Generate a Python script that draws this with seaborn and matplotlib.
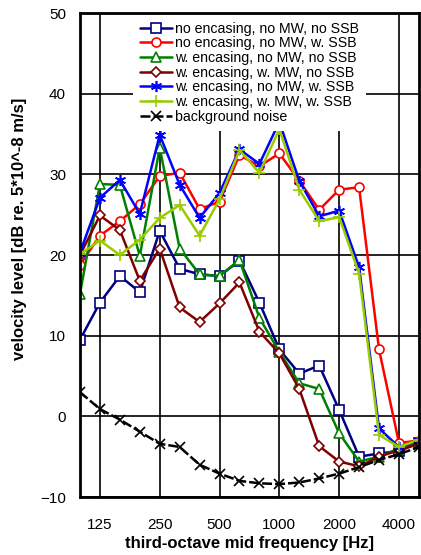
import numpy as np
import pandas as pd
import matplotlib
matplotlib.use("Agg")
import matplotlib.pyplot as plt
import seaborn as sns

freqs = [100, 125, 160, 200, 250, 315, 400, 500, 630, 800, 1000, 1250, 1600, 2000, 2500, 3150, 4000, 5000]
tick_labels = ["125", "250", "500", "1000", "2000", "4000"]

no_enc_no_mw_no_ssb = [9.5, 14.1, 17.4, 15.4, 23.0, 18.3, 17.6, 17.4, 19.3, 14.1, 8.3, 5.3, 6.3, 0.8, -5.0, -4.6, -4.3, -3.3]
no_enc_no_mw_w_ssb = [18.8, 22.4, 24.2, 26.3, 29.8, 30.2, 25.7, 26.6, 32.4, 31.0, 32.6, 29.2, 25.6, 28.1, 28.4, 8.3, -3.3, -3.0]
w_enc_no_mw_no_ssb = [15.2, 28.8, 28.7, 19.9, 33.3, 20.8, 17.6, 17.4, 19.4, 12.2, 8.0, 4.1, 3.4, -2.1, -5.6, -5.0, -4.0, -3.2]
w_enc_w_mw_no_ssb = [20.0, 24.9, 23.1, 16.8, 20.8, 13.5, 11.7, 14.0, 16.6, 10.5, 7.8, 3.4, -3.7, -5.6, -6.2, -5.0, -4.2, -3.4]
w_enc_no_mw_w_ssb = [20.3, 27.1, 29.3, 25.1, 34.9, 28.7, 24.6, 27.7, 33.1, 31.3, 36.5, 29.2, 24.8, 25.5, 18.5, -1.5, -3.8, -3.0]
w_enc_w_mw_w_ssb = [20.1, 21.8, 20.0, 21.9, 24.6, 26.2, 22.4, 26.9, 33.0, 30.2, 35.6, 28.1, 24.2, 24.7, 17.7, -2.3, -3.8, -2.9]
background = [3.0, 0.9, -0.4, -1.9, -3.4, -3.8, -6.0, -7.1, -8.0, -8.3, -8.4, -8.2, -7.7, -7.1, -6.3, -5.4, -4.7, -3.8]

labels = ["no encasing, no MW, no SSB", "no encasing, no MW, w. SSB",
          "w. encasing, no MW, no SSB", "w. encasing, w. MW, no SSB",
          "w. encasing, no MW, w. SSB", "w. encasing, w. MW, w. SSB",
          "background noise"]
series = [no_enc_no_mw_no_ssb, no_enc_no_mw_w_ssb, w_enc_no_mw_no_ssb, w_enc_w_mw_no_ssb,
          w_enc_no_mw_w_ssb, w_enc_w_mw_w_ssb, background]
colors = ["#000080", "#ff0000", "#008000", "#800000", "#0000ff", "#99cc00", "#000000"]
markers = ["s", "o", "^", "D", (6, 2, 0), "+", "x"]
msizes = [6.5, 6.5, 7, 5, 8, 8, 7.5]

sns.set_style("white")
plt.rcParams["font.family"] = ["Liberation Sans", "DejaVu Sans"]
plt.rcParams["text.color"] = "black"
plt.rcParams["axes.labelcolor"] = "black"
plt.rcParams["xtick.color"] = "black"
plt.rcParams["ytick.color"] = "black"

fig = plt.figure(figsize=(4.21, 5.55), dpi=100)
ax = fig.add_axes([0.190, 0.1045, 0.805, 0.872])

x = np.arange(len(freqs))
for vals, lab, c, m, ms in zip(series, labels, colors, markers, msizes):
    ls = (0, (4, 1.2)) if lab == "background noise" else "-"
    sns.lineplot(x=x, y=vals, ax=ax, color=c, marker=m, markersize=ms,
                 markerfacecolor="white", markeredgecolor=c, markeredgewidth=1.2,
                 linewidth=1.8, linestyle=ls, label=lab)

ax.set_xlim(0, 17)
ax.set_ylim(-10, 50)
ax.set_xticks([1, 4, 7, 10, 13, 16])
ax.set_xticklabels(tick_labels)
ax.set_yticks(range(-10, 51, 10))
ax.grid(True, color="black", linewidth=1.2)
ax.tick_params(axis="both", length=0, labelsize=11)
ax.tick_params(axis="x", pad=15)
ax.tick_params(axis="y", pad=10)
for s in ax.spines.values():
    s.set_color("black")
    s.set_linewidth(2)

ax.set_xlabel("third-octave mid frequency [Hz]", fontsize=12, fontweight="bold", labelpad=3)
ax.set_ylabel("velocity level [dB re. 5*10^-8 m/s]", fontsize=12, fontweight="bold")
ax.yaxis.set_label_coords(-0.156, 0.553)

leg = ax.legend(loc="upper center", bbox_to_anchor=(0.5, 1.0), fontsize=10.2, frameon=True,
                framealpha=1, edgecolor="none", fancybox=False, borderpad=0.5,
                labelspacing=0.05, handlelength=2.3, handletextpad=0.2, borderaxespad=0.1)
leg.set_zorder(2.4)

fig.savefig("out.png", dpi=100)
